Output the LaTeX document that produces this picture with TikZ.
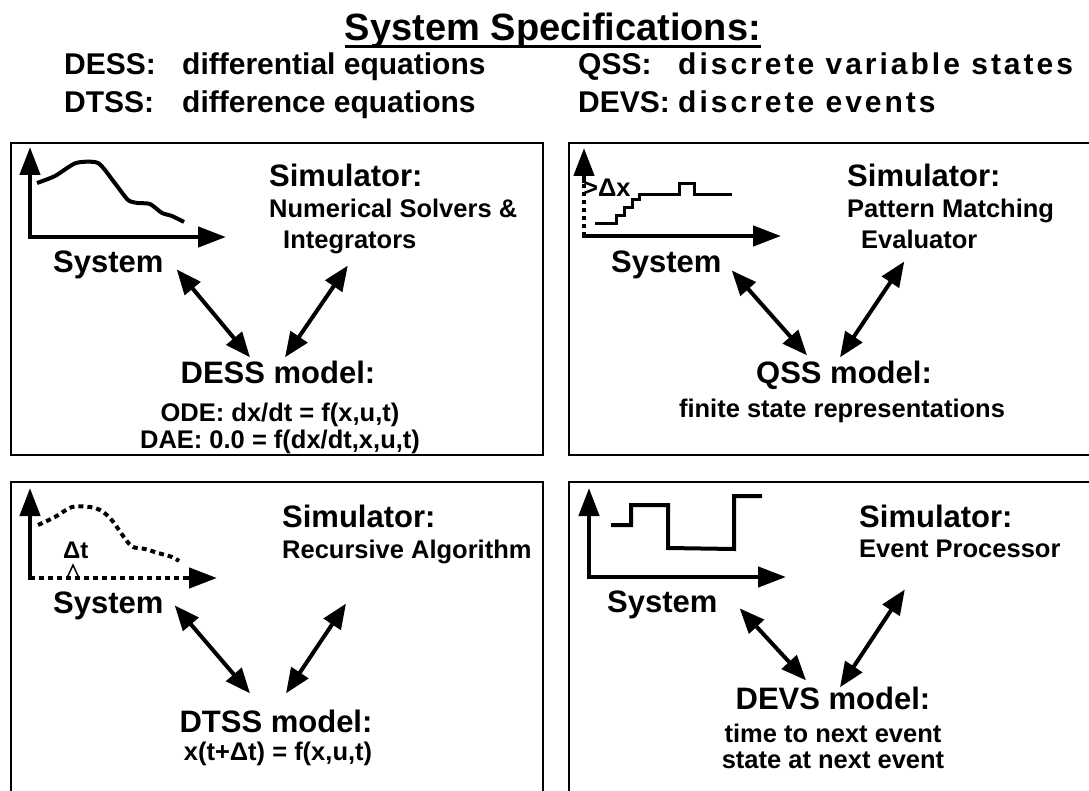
\documentclass[tikz,border=0pt]{standalone}
\usepackage{fontspec}
\setmainfont{Liberation Sans}
\usetikzlibrary{arrows.meta}

\tikzset{
  panel/.style={draw,line width=2pt},
  bigtext/.style={inner sep=0pt,font=\fontsize{31}{36}\selectfont\bfseries},
  smalltext/.style={inner sep=0pt,font=\fontsize{25.5}{30}\selectfont\bfseries},
  headtext/.style={inner sep=0pt,anchor=base west,font=\fontsize{30}{36}\selectfont\bfseries},
  axes/.style={line width=4.5pt,{Triangle[length=28pt,width=20pt]}-{Triangle[length=28pt,width=20pt]}},
  axis/.style={line width=4.5pt,-{Triangle[length=28pt,width=20pt]}},
  link/.style={line width=4pt,{Triangle[length=25pt,width=20pt]}-{Triangle[length=25pt,width=20pt]}},
  signal/.style={line width=4pt,line join=round},
  dots/.style={line width=4pt,dash pattern=on 5pt off 4pt},
}

\begin{document}
\begin{tikzpicture}[x=1pt,y=-1pt]
  \clip (0,0) rectangle (1089,791);
  % header
  \node[inner sep=0pt,anchor=base,font=\fontsize{38}{44}\selectfont\bfseries] (title) at (553,41) {System Specifications:};
  \draw[line width=3pt] ([yshift=-6pt]title.base west) -- ([yshift=-6pt]title.base east);
  \node[headtext] (hdess) at (64,75) {\makebox[118pt][l]{DESS:}differential equations};
  \node[headtext] (hdtss) at (64,113) {\makebox[118pt][l]{DTSS:}difference equations};
  \node[headtext] (hqss) at (578,75) {\makebox[100pt][l]{QSS:}\addfontfeatures{LetterSpace=10}discrete variable states};
  \node[headtext] (hdevs) at (578,113) {\makebox[100pt][l]{DEVS:}\addfontfeatures{LetterSpace=10}discrete events};
  % panels
  \draw[panel] (11,143) rectangle (543,455);
  \draw[panel] (569,143) rectangle (1100,455);
  \draw[panel] (11,482) rectangle (543,800);
  \draw[panel] (569,482) rectangle (1100,800);
  %
  % DESS
  \draw[axes] (30,147) -- (30,237) -- (226,237);
  \draw[signal] plot[smooth,tension=0.4] coordinates {(37,183) (55,176) (76,163) (98,163) (114,182) (128,200) (138,203) (150,204) (162,213) (172,216) (184,222)};
  \node[bigtext,anchor=base west] (sysA) at (53,273) {System};
  \node[bigtext,anchor=base west] (simA) at (269,187) {Simulator:};
  \node[smalltext,anchor=base west] (numA) at (269,218) {Numerical Solvers \&};
  \node[smalltext,anchor=base west] (intA) at (283,249) {Integrators};
  \node[bigtext,anchor=base] (modA) at (278,383) {DESS model:};
  \node[smalltext,anchor=base] (odeA) at (280,421) {ODE: dx/dt = f(x,u,t)};
  \node[smalltext,anchor=base] (daeA) at (280,448) {DAE: 0.0 = f(dx/dt,x,u,t)};
  \draw[link] ([shift={(13,4)}]sysA.east) -- ([shift={(-28,-3)}]modA.north);
  \draw[link] ([shift={(-2,11)}]intA.south) -- ([shift={(7,-3)}]modA.north);
  %
  % QSS
  \draw[dots,dash pattern=on 4pt off 4pt] (584,236) -- (584,183);
  \draw[axis] (584,183) -- (584,148);
  \draw[axis] (582,236) -- (781,236);
  \draw[line width=3pt] (595,224) -- (616,224) -- (616,216) -- (624,216) -- (624,208) -- (632,208) -- (632,200) -- (639,200) -- (639,195) -- (679,195) -- (679,184) -- (694,184) -- (694,195) -- (732,195);
  \node[smalltext,anchor=base west] (dx) at (583,197) {>Δx};
  \node[bigtext,anchor=base west] (sysB) at (611,273) {System};
  \node[bigtext,anchor=base west] (simB) at (847,187) {Simulator:};
  \node[smalltext,anchor=base west] (patB) at (847,218) {Pattern Matching};
  \node[smalltext,anchor=base west] (evaB) at (861,249) {Evaluator};
  \node[bigtext,anchor=base] (modB) at (844,383) {QSS model:};
  \node[smalltext,anchor=base] (fsrB) at (842,417) {finite state representations};
  \draw[link] ([shift={(10,5)}]sysB.east) -- ([shift={(-37,-5)}]modB.north);
  \draw[link] ([shift={(-15,12)}]evaB.south) -- ([shift={(-4,-3)}]modB.north);
  %
  % DTSS
  \draw[axis] (30,580) -- (30,488);
  \draw[dots] (30,578) -- (192,578);
  \draw[axis] (186,578) -- (217,578);
  \draw[dots] plot[smooth,tension=0.5] coordinates {(38,525) (55,517) (72,507) (90,507) (100,510) (110,518) (119,530) (126,540) (133,547) (145,549) (158,553) (172,557) (179,561)};
  \node[inner sep=0pt,anchor=base west,font=\fontsize{24}{28}\selectfont\bfseries] (dt) at (63,558) {Δt};
  \draw[line width=1.5pt] (67,578) -- (73,565) -- (79,578);
  \node[bigtext,anchor=base west] (sysC) at (53,613) {System};
  \node[bigtext,anchor=base west] (simC) at (282,527) {Simulator:};
  \node[smalltext,anchor=base west] (recC) at (282,558) {Recursive Algorithm};
  \node[bigtext,anchor=base] (modC) at (276,732) {DTSS model:};
  \node[smalltext,anchor=base] (eqC) at (278,760) {x(t+Δt) = f(x,u,t)};
  \draw[link] ([shift={(11,0)}]sysC.east) -- ([shift={(-26,-16)}]modC.north);
  \draw[link] ([shift={(64,40)}]recC.south west) -- ([shift={(10,-16)}]modC.north);
  %
  % DEVS
  \draw[axes] (589,488) -- (589,577) -- (786,577);
  \draw[signal,line join=miter] (611,525) -- (631,525) -- (631,505) -- (668,505) -- (668,548) -- (734,549) -- (734,496) -- (762,496);
  \node[bigtext,anchor=base west] (sysD) at (607,612) {System};
  \node[bigtext,anchor=base west] (simD) at (859,527) {Simulator:};
  \node[smalltext,anchor=base west] (evpD) at (859,557) {Event Processor};
  \node[bigtext,anchor=base] (modD) at (833,709) {DEVS model:};
  \node[smalltext,anchor=base] (tneD) at (833,742) {time to next event};
  \node[smalltext,anchor=base] (sneD) at (833,768) {state at next event};
  \draw[link] ([shift={(22,4)}]sysD.east) -- ([shift={(-27,-6)}]modD.north);
  \draw[link] ([shift={(-55,32)}]evpD.south) -- ([shift={(7,1)}]modD.north);
\end{tikzpicture}
\end{document}
